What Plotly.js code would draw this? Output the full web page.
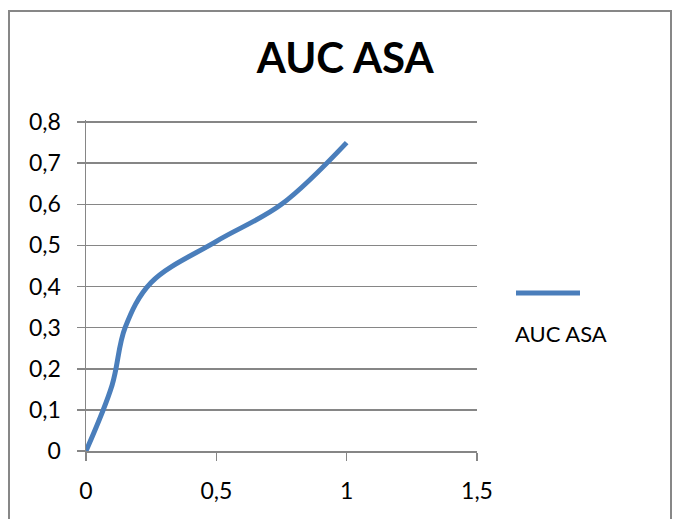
<!DOCTYPE html>
<html>
<head>
<meta charset="utf-8">
<script src="https://cdn.plot.ly/plotly-3.0.1.min.js"></script>
<style>
  html, body { margin: 0; padding: 0; background: #fff; }
  #wrap { position: relative; width: 673px; height: 519px; overflow: hidden; }
  #chart { position: absolute; left: 0; top: 0; width: 673px; height: 519px; }
  #frame { position: absolute; left: 8px; top: 10px; width: 660px; height: 530px;
           border: 2px solid #878787; pointer-events: none; }
</style>
</head>
<body>
<div id="wrap">
  <div id="chart"></div>
  <div id="frame"></div>
</div>
<script>
const seriesName = "AUC ASA";
const xValues = [0, 0.1, 0.15, 0.25, 0.5, 0.75, 1];
const yValues = [0, 0.16, 0.3, 0.41, 0.51, 0.6, 0.75];
const yTicks = [0, 0.1, 0.2, 0.3, 0.4, 0.5, 0.6, 0.7, 0.8];
const xTicks = [0, 0.5, 1, 1.5];

const lineColor = "#4A7EBB";
const gridColor = "#868686";
const font = "Lato, 'Open Sans', sans-serif";

const trace = {
  x: xValues, y: yValues, name: seriesName,
  type: "scatter", mode: "lines",
  line: { color: lineColor, width: 5, shape: "spline", smoothing: 1 },
  showlegend: false, hoverinfo: "skip"
};

const layout = {
  width: 673, height: 519,
  margin: { l: 86, r: 196, t: 120, b: 68 },
  paper_bgcolor: "#fff", plot_bgcolor: "#fff",
  separators: ", ",
  font: { family: font, color: "#000", size: 23 },
  title: { text: "<b>AUC ASA</b>", font: { family: font, size: 42, color: "#000" },
           x: 0.513, xanchor: "center", y: 0.888, yanchor: "middle" },
  xaxis: {
    range: [0, 1.5], tickvals: xTicks, ticks: "outside", ticklen: 8, tickwidth: 1.5,
    tickcolor: gridColor, showline: true, linecolor: gridColor, linewidth: 1.5,
    showgrid: false, zeroline: false, fixedrange: true, ticklabelstandoff: 11,
    tickfont: { family: font, size: 23, color: "#000" }
  },
  yaxis: {
    range: [0, 0.805], tickvals: yTicks, ticks: "outside", ticklen: 8, tickwidth: 1.5,
    tickcolor: gridColor, showline: true, linecolor: gridColor, linewidth: 1.5,
    showgrid: true, gridcolor: gridColor, gridwidth: 1.5, zeroline: false, fixedrange: true,
    ticklabelstandoff: 11,
    tickfont: { family: font, size: 23, color: "#000" }
  },
  shapes: [
    { type: "line", xref: "paper", yref: "paper",
      x0: (516 - 86) / 391, x1: (580 - 86) / 391,
      y0: (451 - 293) / 331, y1: (451 - 293) / 331,
      line: { color: lineColor, width: 5 } }
  ],
  annotations: [
    { xref: "paper", yref: "paper", x: (513 - 86) / 391, y: (451 - 333) / 331,
      xanchor: "left", yanchor: "middle", showarrow: false, text: seriesName,
      font: { family: font, size: 22, color: "#000" } }
  ]
};

Plotly.newPlot("chart", [trace], layout, { displayModeBar: false, staticPlot: true });
</script>
</body>
</html>
